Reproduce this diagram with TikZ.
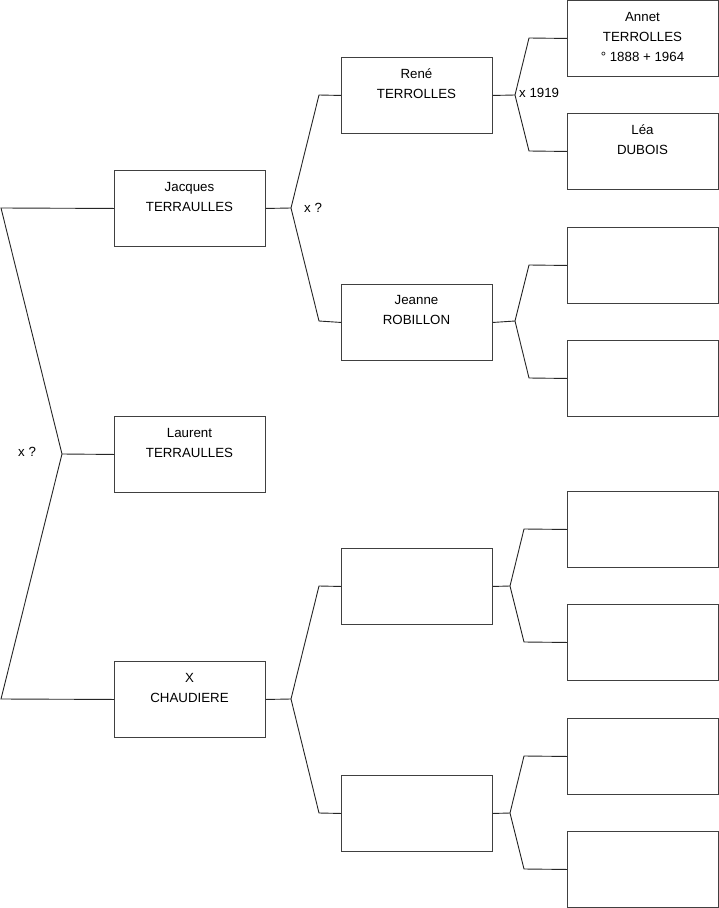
\documentclass[tikz,border=0pt]{standalone}
\usepackage{fontspec}
\setmainfont{Liberation Sans}
\begin{document}
\begin{tikzpicture}[x=1pt,y=-1pt,
  box/.style={draw=black!75,line width=0.9pt,minimum width=151pt,minimum height=76pt,inner sep=0pt,anchor=north west},
  txt/.style={anchor=base,align=center,inner sep=0pt,font=\fontsize{13.3}{20}\selectfont},
  lab/.style={anchor=base west,inner sep=0pt,font=\fontsize{13.3}{14}\selectfont},
  link/.style={draw=black!85,line width=0.9pt}]
\useasboundingbox[fill=white] (0,0) rectangle (719,908);
% column 1
\node[box] (jac) at (114,170) {};
\node[box] (lau) at (114,416) {};
\node[box] (cha) at (114,661) {};
% column 2
\node[box] (ren) at (341,57) {};
\node[box] (jea) at (341,284) {};
\node[box] (b21) at (341,548) {};
\node[box] (b22) at (341,775) {};
% column 3
\node[box] (ann) at (567,0) {};
\node[box] (lea) at (567,113) {};
\node[box] (b31) at (567,227) {};
\node[box] (b32) at (567,340) {};
\node[box] (b33) at (567,491) {};
\node[box] (b34) at (567,604) {};
\node[box] (b35) at (567,718) {};
\node[box] (b36) at (567,831) {};
% texts (anchor = baseline of last line)
\node[txt] (tjac) at (189.5,211) {Jacques\\TERRAULLES};
\node[txt] (tlau) at (189.5,457) {Laurent\\TERRAULLES};
\node[txt] (tcha) at (189.5,702) {X\\CHAUDIERE};
\node[txt] (tren) at (416.5,98) {René\\TERROLLES};
\node[txt] (tjea) at (416.5,324.5) {Jeanne\\ROBILLON};
\node[txt] (tann) at (642.5,61) {Annet\\TERROLLES\\° 1888 + 1964};
\node[txt] (tlea) at (642.5,154) {Léa\\DUBOIS};
\node[lab] (l0) at (18,456.5) {x ?};
\node[lab] (l1) at (304,212.5) {x ?};
\node[lab] (l2) at (519,97.5) {x 1919};
% fork coordinates
\coordinate (t0) at (1,208);
\coordinate (f0) at (62,454);
\coordinate (d0) at (1,699);
\coordinate (f1) at (291,208);
\coordinate (u1) at (319,95);
\coordinate (v1) at (319,321);
\coordinate (f2) at (291,699);
\coordinate (u2) at (319,586);
\coordinate (v2) at (319,813);
\coordinate (f3) at (515,95);
\coordinate (u3) at (529,38);
\coordinate (v3) at (529,151);
\coordinate (f4) at (515,321);
\coordinate (u4) at (529,265);
\coordinate (v4) at (529,378);
\coordinate (f5) at (510,586);
\coordinate (u5) at (524,529);
\coordinate (v5) at (524,642);
\coordinate (f6) at (510,813);
\coordinate (u6) at (524,756);
\coordinate (v6) at (524,869);
% connectors
\draw[link] (jac.west) -- (t0) -- (f0) -- (d0) -- (cha.west);
\draw[link] (f0) -- (lau.west);
\draw[link] (jac.east) -- (f1);
\draw[link] (ren.west) -- (u1) -- (f1) -- (v1) -- (jea.west);
\draw[link] (cha.east) -- (f2);
\draw[link] (b21.west) -- (u2) -- (f2) -- (v2) -- (b22.west);
\draw[link] (ren.east) -- (f3);
\draw[link] (ann.west) -- (u3) -- (f3) -- (v3) -- (lea.west);
\draw[link] (jea.east) -- (f4);
\draw[link] (b31.west) -- (u4) -- (f4) -- (v4) -- (b32.west);
\draw[link] (b21.east) -- (f5);
\draw[link] (b33.west) -- (u5) -- (f5) -- (v5) -- (b34.west);
\draw[link] (b22.east) -- (f6);
\draw[link] (b35.west) -- (u6) -- (f6) -- (v6) -- (b36.west);
\end{tikzpicture}
\end{document}
